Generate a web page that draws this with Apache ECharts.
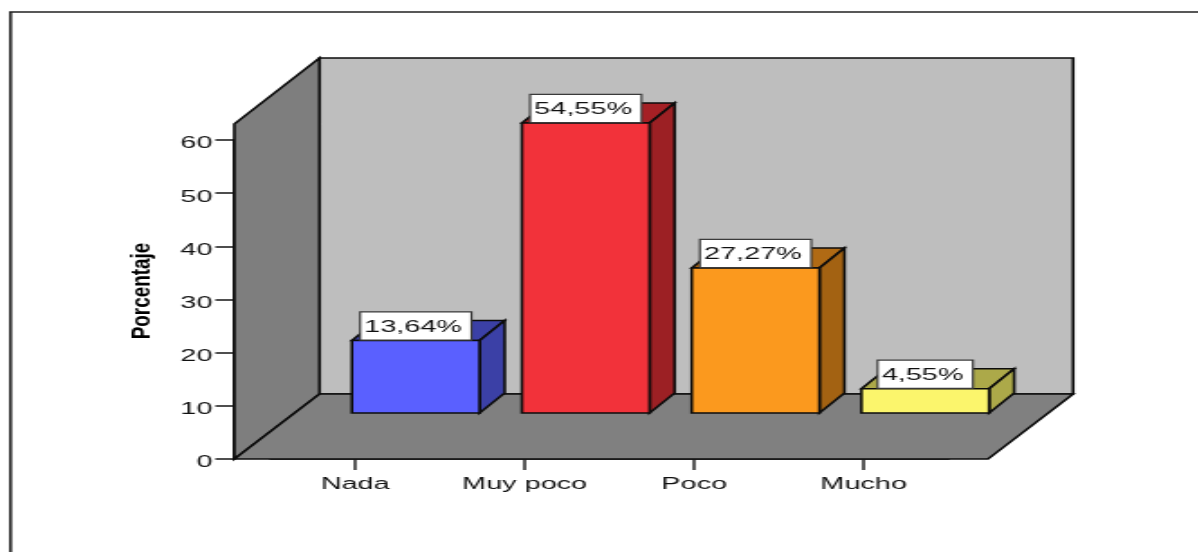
<!DOCTYPE html>
<html><head><meta charset="utf-8">
<style>html,body{margin:0;padding:0;background:#fff;overflow:hidden;width:1198px;height:552px}
#c{position:absolute;left:0;top:0;height:552px;transform-origin:0 0;filter:blur(0.35px)}</style>
<script src="https://cdn.jsdelivr.net/npm/echarts@6/dist/echarts.min.js"></script>
</head><body><div id="c"></div>
<script>
var categories = ['Nada', 'Muy poco', 'Poco', 'Mucho'];
var values = [13.64, 54.55, 27.27, 4.55];
var yTicks = [0, 60, 10];
var frontColors = ['#5a60ff', '#f2323a', '#fb991e', '#fbf56c'];
var sideColors = ['#3b40a6', '#9c2024', '#a36212', '#aca949'];
var topColors = ['#3b40a6', '#a52025', '#b06a14', '#aca949'];
var axisTitle = 'Porcentaje';

// The reference is a picture stretched sideways, so the whole chart is drawn narrow then widened.
var K = 1.8;
function px(v) { return v / K; }
var el = document.getElementById('c');
el.style.width = (1198 / K) + 'px';
el.style.transform = 'scaleX(' + K + ')';
var chart = echarts.init(el, null, {renderer: 'canvas', width: 1198 / K, height: 552});
var ink = '#0c0c0c', textInk = '#111111', LW = 1.6;
var FONT = 'Liberation Sans, Arial, sans-serif';
var GRID_L = 270, GRID_R = 947;
var DEPTH_X = px(85), DEPTH_Y = 65, WALL_TOP = 63;
var FRONT_LEFT = px(GRID_L - 234), FRONT_RIGHT = px(39.5);
var BAR_LEFT = [60.5, 61, 61.3, 61.5];
var BAR_W = px(127.5), BAR_LIFT = 46, BAR_DX = px(25), BAR_DY = 20;

function poly(points, fill) {
  return {type: 'polygon', shape: {points: points},
    style: {fill: fill, stroke: ink, lineWidth: LW, lineJoin: 'miter'}};
}
function renderWalls(params, api) {
  var a = api.coord([0, 0]), b = api.coord([categories.length - 1, 0]);
  var half = api.size([1, 0])[0] / 2;
  var x0 = a[0] - half - FRONT_LEFT, x1 = b[0] + half + FRONT_RIGHT, y0 = a[1];
  var yTop = api.coord([0, WALL_TOP])[1];
  var backTop = yTop - DEPTH_Y - 1;
  return {type: 'group', children: [
    poly([[x0 + DEPTH_X, backTop], [x1 + DEPTH_X, backTop], [x1 + DEPTH_X, y0 - DEPTH_Y], [x0 + DEPTH_X, y0 - DEPTH_Y]], '#bebebe'),
    poly([[x0, yTop], [x0 + DEPTH_X, backTop], [x0 + DEPTH_X, y0 - DEPTH_Y], [x0, y0]], '#7e7e7e'),
    poly([[x0, y0], [x0 + DEPTH_X, y0 - DEPTH_Y], [x1 + DEPTH_X, y0 - DEPTH_Y], [x1, y0]], '#808080')
  ]};
}
function renderBar(params, api) {
  var i = api.value(0), v = api.value(1);
  var base = api.coord([i, 0]), top = api.coord([i, v]);
  var xl = base[0] + px(BAR_LEFT[i]) - BAR_W / 2, xr = xl + BAR_W;
  var yb = base[1] - BAR_LIFT, yt = top[1] - BAR_LIFT;
  return {type: 'group', children: [
    poly([[xl, yt], [xl + BAR_DX, yt - BAR_DY], [xr + BAR_DX, yt - BAR_DY], [xr, yt]], topColors[i]),
    poly([[xr, yt], [xr + BAR_DX, yt - BAR_DY], [xr + BAR_DX, yb - BAR_DY], [xr, yb]], sideColors[i]),
    poly([[xl, yt], [xr, yt], [xr, yb], [xl, yb]], frontColors[i]),
    {type: 'text', z2: 5, style: {
      text: v.toFixed(2).replace('.', ',') + '%', x: (xl + xr) / 2, y: yt - 1,
      align: 'center', verticalAlign: 'bottom', fill: textInk,
      font: '16px ' + FONT, lineHeight: 16, backgroundColor: '#ffffff',
      borderColor: '#3a3a3a', borderWidth: 1.2, padding: [7, 4.6, 4, 1.7]}}
  ]};
}
chart.setOption({
  animation: false,
  backgroundColor: '#ffffff',
  grid: {left: px(GRID_L), right: 1198 / K - px(GRID_R), top: 140, bottom: 552 - 459},
  xAxis: {type: 'category', data: categories, boundaryGap: true,
    axisLine: {show: true, lineStyle: {color: ink, width: LW}},
    axisTick: {show: true, alignWithLabel: true, length: 11, lineStyle: {color: '#333333', width: LW}},
    axisLabel: {color: textInk, fontFamily: FONT, fontSize: 16, margin: 17.5, interval: 0},
    splitLine: {show: false}},
  yAxis: {type: 'value', min: yTicks[0], max: yTicks[1], interval: yTicks[2], offset: FRONT_LEFT,
    axisLine: {show: true, lineStyle: {color: ink, width: LW}},
    axisTick: {show: true, length: px(19), lineStyle: {color: '#222222', width: LW}},
    axisLabel: {color: textInk, fontFamily: FONT, fontSize: 16, margin: px(22), verticalAlign: 'top', lineHeight: 8},
    splitLine: {show: false}},
  graphic: [
    {type: 'polyline', z: 0, shape: {points: [[px(10.5), 552], [px(10.5), 12], [1198 / K, 12]]},
      style: {fill: null, stroke: '#222222', lineWidth: 1.6}},
    {type: 'text', x: px(143), y: 291, rotation: Math.PI / 2, scaleX: 1.35, scaleY: 1,
      style: {text: axisTitle, align: 'center', verticalAlign: 'middle', fill: '#000000',
        font: 'bold 14px ' + FONT}}
  ],
  series: [
    {type: 'custom', z: 1, silent: true, coordinateSystem: 'cartesian2d', renderItem: renderWalls, data: [[0, 0]]},
    {type: 'custom', z: 3, silent: true, coordinateSystem: 'cartesian2d', renderItem: renderBar,
      encode: {x: 0, y: 1}, data: values.map(function (v, i) { return [i, v]; })}
  ]
});
</script></body></html>
